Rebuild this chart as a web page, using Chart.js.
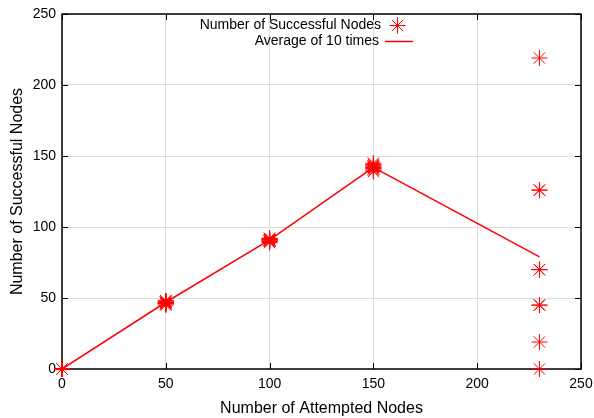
<!DOCTYPE html>
<html>
<head>
<meta charset="utf-8">
<script src="https://cdn.jsdelivr.net/npm/chart.js@4"></script>
<style>
  html, body { margin: 0; padding: 0; background: #fff; }
  #wrap { width: 594px; height: 418px; }
</style>
</head>
<body>
<div id="wrap"><canvas id="chartCanvas" width="594" height="418"></canvas></div>
<script>
"use strict";

// attempted nodes (x) and the 10 runs measured at each
const attempted = [0, 50, 100, 150, 230];
const runs0 = [0, 0, 0, 0, 0, 0, 0, 0, 0, 0];
const runs50 = [45, 46, 47, 47, 48, 46, 47, 48, 47, 46];
const runs100 = [89, 90, 91, 92, 91, 90, 92, 91, 90, 91];
const runs150 = [139, 140, 141, 142, 143, 144, 145, 142, 141, 143];
const runs230 = [219, 126, 126, 70, 70, 45, 45, 19, 0, 70];
const averages = [0, 47, 91, 142, 79];

const xTicks = [0, 50, 100, 150, 200, 250];
const yTicks = [0, 50, 100, 150, 200, 250];

const RED = "#ff0000";
const FONT = "'Liberation Sans', Arial, Helvetica, sans-serif";

const allRuns = [runs0, runs50, runs100, runs150, runs230];
const scatterPoints = [];
allRuns.forEach((vals, i) => {
  vals.forEach((v) => scatterPoints.push({ x: attempted[i], y: v }));
});
const avgPoints = attempted.map((x, i) => ({ x: x, y: averages[i] }));

// frame, inward ticks and the inset legend, drawn like gnuplot
const framePlugin = {
  id: "frame",
  beforeDatasetsDraw(chart) {
    const { ctx, chartArea: a, scales } = chart;
    ctx.save();
    ctx.strokeStyle = "#000";
    ctx.lineWidth = 1.5;
    ctx.strokeRect(a.left, a.top, a.right - a.left, a.bottom - a.top);
    ctx.lineWidth = 1;
    ctx.beginPath();
    xTicks.forEach((t) => {
      const px = Math.round(scales.x.getPixelForValue(t)) + 0.5;
      ctx.moveTo(px, a.bottom); ctx.lineTo(px, a.bottom - 6);
      ctx.moveTo(px, a.top); ctx.lineTo(px, a.top + 6);
    });
    yTicks.forEach((t) => {
      const py = Math.round(scales.y.getPixelForValue(t)) + 0.5;
      ctx.moveTo(a.left, py); ctx.lineTo(a.left + 6, py);
      ctx.moveTo(a.right, py); ctx.lineTo(a.right - 6, py);
    });
    ctx.stroke();
    ctx.restore();
  },
  afterDatasetsDraw(chart) {
    const { ctx } = chart;
    ctx.save();
    // legend
    ctx.font = "14px " + FONT;
    ctx.fillStyle = "#000";
    ctx.textAlign = "right";
    ctx.textBaseline = "middle";
    ctx.fillText(chart.data.datasets[0].label, 381, 25);
    ctx.fillText(chart.data.datasets[1].label, 379, 41);
    ctx.strokeStyle = RED;
    ctx.lineWidth = 1;
    const cx = 397.5, cy = 25.5, r = 8;
    ctx.beginPath();
    ctx.moveTo(cx - r, cy); ctx.lineTo(cx + r, cy);
    ctx.moveTo(cx, cy - r); ctx.lineTo(cx, cy + r);
    const d = r * 0.707;
    ctx.moveTo(cx - d, cy - d); ctx.lineTo(cx + d, cy + d);
    ctx.moveTo(cx - d, cy + d); ctx.lineTo(cx + d, cy - d);
    ctx.stroke();
    ctx.lineWidth = 1.5;
    ctx.beginPath();
    ctx.moveTo(385, 41.5); ctx.lineTo(413, 41.5);
    ctx.stroke();
    ctx.restore();
  },
};

const ctx = document.getElementById("chartCanvas").getContext("2d");

new Chart(ctx, {
  type: "scatter",
  data: {
    datasets: [
      {
        label: "Number of Successful Nodes",
        data: scatterPoints,
        pointStyle: "star",
        pointRadius: 8,
        pointBorderWidth: 1,
        borderColor: RED,
        backgroundColor: RED,
        showLine: false,
        clip: false,
        order: 1,
      },
      {
        label: "Average of 10 times",
        data: avgPoints,
        showLine: true,
        pointRadius: 0,
        borderColor: RED,
        borderWidth: 1.5,
        tension: 0,
        order: 2,
      },
    ],
  },
  options: {
    responsive: false,
    animation: false,
    layout: { padding: { top: 14, right: 13, left: 0, bottom: 0 } },
    plugins: {
      legend: { display: false },
      tooltip: { enabled: false },
    },
    scales: {
      x: {
        type: "linear",
        min: 0,
        max: 250,
        afterBuildTicks: (scale) => {
          scale.ticks = xTicks.map((v) => ({ value: v }));
        },
        afterFit: (scale) => {
          scale.height = 49;
          scale.paddingLeft = 0;
          scale.paddingRight = 0;
        },
        grid: { color: "#dddddd", lineWidth: 1, drawTicks: false },
        border: { display: false },
        ticks: {
          color: "#000",
          padding: 7,
          font: { family: FONT, size: 14 },
          maxRotation: 0,
        },
        title: {
          display: true,
          text: "Number of Attempted Nodes",
          color: "#000",
          font: { family: FONT, size: 16 },
          padding: { top: 1, bottom: 0 },
        },
      },
      y: {
        type: "linear",
        min: 0,
        max: 250,
        afterBuildTicks: (scale) => {
          scale.ticks = yTicks.map((v) => ({ value: v }));
        },
        afterFit: (scale) => {
          scale.width = 62;
          scale.paddingTop = 0;
          scale.paddingBottom = 0;
        },
        grid: { color: "#dddddd", lineWidth: 1, drawTicks: false },
        border: { display: false },
        ticks: {
          color: "#000",
          padding: 6,
          font: { family: FONT, size: 14 },
        },
        title: {
          display: true,
          text: "Number of Successful Nodes",
          color: "#000",
          font: { family: FONT, size: 16 },
          padding: { top: 8, bottom: 4 },
        },
      },
    },
  },
  plugins: [framePlugin],
});
</script>
</body>
</html>
